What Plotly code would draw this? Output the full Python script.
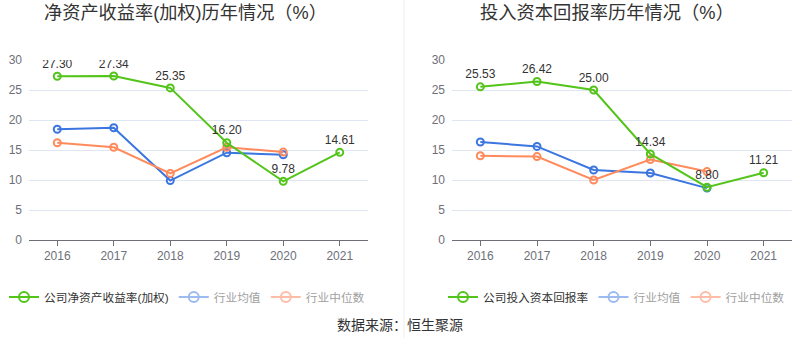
import plotly.graph_objects as go

years = ["2016", "2017", "2018", "2019", "2020", "2021"]
years_ind = ["2016", "2017", "2018", "2019", "2020"]

roe_company = [27.30, 27.34, 25.35, 16.20, 9.78, 14.61]
roe_mean = [18.45, 18.70, 9.90, 14.55, 14.20]
roe_median = [16.20, 15.45, 11.10, 15.45, 14.65]

roic_company = [25.53, 26.42, 25.00, 14.34, 8.80, 11.21]
roic_mean = [16.33, 15.60, 11.67, 11.17, 8.65]
roic_median = [14.05, 13.90, 10.00, 13.40, 11.40]

y_ticks = [0, 5, 10, 15, 20, 25, 30]

GREEN = "#52C41A"
BLUE = "#3A75E0"
ORANGE = "#FF8A5C"
BLUE_L = "#9DBAF2"
ORANGE_L = "#FFBCA6"
FONT = "Liberation Sans, Noto Sans CJK SC, sans-serif"

fig = go.Figure()

def add_set(company, mean, median, xa, ya, leg, cname):
    fig.add_trace(go.Scatter(x=years_ind, y=mean, xaxis=xa, yaxis=ya, mode="lines+markers",
                             line=dict(color=BLUE, width=2),
                             marker=dict(symbol="circle-open", size=7, color=BLUE, line=dict(width=2)),
                             showlegend=False, hoverinfo="skip"))
    fig.add_trace(go.Scatter(x=years_ind, y=median, xaxis=xa, yaxis=ya, mode="lines+markers",
                             line=dict(color=ORANGE, width=2),
                             marker=dict(symbol="circle-open", size=7, color=ORANGE, line=dict(width=2)),
                             showlegend=False, hoverinfo="skip"))
    fig.add_trace(go.Scatter(x=years, y=company, xaxis=xa, yaxis=ya, mode="lines+markers+text",
                             line=dict(color=GREEN, width=2),
                             marker=dict(symbol="circle-open", size=7, color=GREEN, line=dict(width=2)),
                             text=[f"{v:.2f}" for v in company], textposition="top center",
                             textfont=dict(size=12, color="#333333", family=FONT),
                             showlegend=False, hoverinfo="skip"))
    for nm, col, tcol in [(cname, GREEN, "#333333"), ("行业均值", BLUE_L, "#A0A0A0"), ("行业中位数", ORANGE_L, "#A0A0A0")]:
        fig.add_trace(go.Scatter(x=[None], y=[None], xaxis=xa, yaxis=ya, mode="lines+markers",
                                 name=f"<span style='color:{tcol}'>{nm}</span>",
                                 line=dict(color=col, width=2),
                                 marker=dict(symbol="circle-open", size=10, color=col, line=dict(width=2)),
                                 legend=leg, showlegend=True))

add_set(roe_company, roe_mean, roe_median, "x", "y", "legend", "公司净资产收益率(加权)")
add_set(roic_company, roic_mean, roic_median, "x2", "y2", "legend2", "公司投入资本回报率")

H = 358
y_dom = [(H - 240) / H, (H - 60) / H]

xcommon = dict(type="category", categoryorder="array", categoryarray=years, range=[-0.5, 5.5],
               showgrid=False, showline=True, linecolor="#6E7079", linewidth=1,
               ticks="outside", ticklen=5, tickcolor="#6E7079", automargin=False,
               tickfont=dict(size=12, color="#6E7079", family=FONT), zeroline=False, fixedrange=True)
ycommon = dict(range=[0, 30], tickvals=y_ticks, showgrid=True, gridcolor="#E0E6F1", gridwidth=1,
               showline=False, zeroline=False, ticks="", ticklabelstandoff=6, automargin=False,
               tickfont=dict(size=12, color="#6E7079", family=FONT), fixedrange=True)

fig.update_layout(
    width=800, height=358,
    margin=dict(l=0, r=0, t=0, b=0, autoexpand=False),
    paper_bgcolor="white", plot_bgcolor="white",
    font=dict(family=FONT),
    hovermode=False,
    xaxis=dict(domain=[29 / 800, 368 / 800], anchor="y", **xcommon),
    yaxis=dict(domain=y_dom, anchor="x", **ycommon),
    xaxis2=dict(domain=[452 / 800, 792 / 800], anchor="y2", **xcommon),
    yaxis2=dict(domain=y_dom, anchor="x2", **ycommon),
    legend=dict(orientation="h", x=4 / 800, xanchor="left", y=(H - 297) / H, yanchor="middle",
                font=dict(size=11.7, family=FONT), itemwidth=30, bgcolor="rgba(0,0,0,0)"),
    legend2=dict(orientation="h", x=443 / 800, xanchor="left", y=(H - 297) / H, yanchor="middle",
                 font=dict(size=11.7, family=FONT), itemwidth=30, bgcolor="rgba(0,0,0,0)"),
    annotations=[
        dict(text="净资产收益率(加权)历年情况（%）", x=185 / 800, y=(H - 13) / H, xref="paper", yref="paper",
             showarrow=False, font=dict(size=18.2, color="#333333", family=FONT), xanchor="center", yanchor="middle"),
        dict(text="投入资本回报率历年情况（%）", x=607 / 800, y=(H - 13) / H, xref="paper", yref="paper",
             showarrow=False, font=dict(size=18.3, color="#333333", family=FONT), xanchor="center", yanchor="middle"),
        dict(text="数据来源：恒生聚源", x=0.5, y=(H - 325) / H, xref="paper", yref="paper",
             showarrow=False, font=dict(size=14, color="#333333", family=FONT), xanchor="center", yanchor="middle"),
    ],
    shapes=[dict(type="line", xref="paper", yref="paper", x0=404 / 800, x1=404 / 800,
                 y0=(H - 338) / H, y1=1, line=dict(color="#EEEEEE", width=1))],
)

fig.write_html("out.html", config={"displayModeBar": False},
               post_script="document.body.style.margin='0';document.body.style.overflow='hidden';")
